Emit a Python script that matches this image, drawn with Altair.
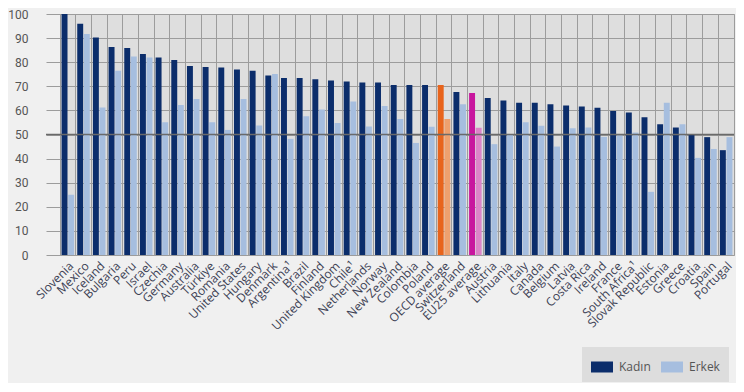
import altair as alt
import pandas as pd

countries = ["Slovenia", "Mexico", "Iceland", "Bulgaria", "Peru", "Israel", "Czechia",
             "Germany", "Australia", "Türkiye", "Romania", "United States", "Hungary",
             "Denmark", "Argentina¹", "Brazil", "Finland", "United Kingdom", "Chile¹",
             "Netherlands", "Norway", "New Zealand", "Colombia", "Poland", "OECD average",
             "Switzerland", "EU25 average", "Austria", "Lithuania", "Italy", "Canada",
             "Belgium", "Latvia", "Costa Rica", "Ireland", "France", "South Africa¹",
             "Slovak Republic", "Estonia", "Greece", "Croatia", "Spain", "Portugal"]

kadin = [100, 96, 90.3, 86.3, 85.9, 83.4, 81.9, 80.9, 78.4, 78.0, 77.8, 77.0, 76.5,
         74.5, 73.4, 73.4, 72.9, 72.4, 72.0, 71.6, 71.6, 70.5, 70.5, 70.5, 70.5,
         67.6, 67.2, 65.1, 64.1, 63.2, 63.2, 62.6, 62.0, 61.6, 61.1, 59.7, 59.1,
         57.2, 54.3, 52.9, 50.0, 48.9, 43.5]

erkek = [25, 91.7, 61.2, 76.5, 82.4, 81.9, 55.1, 62.2, 64.7, 55.1, 51.9, 64.7, 53.7,
         75.1, 48.2, 57.6, 60.4, 54.8, 63.7, 53.3, 61.8, 56.4, 46.5, 53.2, 56.4,
         62.6, 52.8, 46.0, 49.9, 55.1, 53.6, 45.0, 52.6, 52.9, 49.0, 49.6, 50.8,
         26.2, 63.2, 54.3, 40.3, 44.0, 48.9]

series = ["Kadın", "Erkek"]
color_keys = ["Kadın", "Erkek", "OECD Kadın", "OECD Erkek", "EU Kadın", "EU Erkek"]
color_vals = ["#0b2d6b", "#a6bedf", "#e8641c", "#eea06e", "#c8169e", "#dc84c8"]
y_ticks = [0, 10, 20, 30, 40, 50, 60, 70, 80, 90, 100]

rows = []
for c, k, e in zip(countries, kadin, erkek):
    for s, v in zip(series, [k, e]):
        if c == "OECD average":
            key = "OECD " + s
        elif c == "EU25 average":
            key = "EU " + s
        else:
            key = s
        rows.append({"country": c, "series": s, "value": v, "key": key})
df = pd.DataFrame(rows)

W, H = 674, 241

y_axis = alt.Axis(title=None, values=y_ticks, domain=False,
                  grid=True, gridColor="#9c9c9c", gridWidth=1,
                  tickSize=14, tickColor="#9c9c9c", labelPadding=18,
                  labelFont="Roboto", labelFontSize=12,
                  labelColor="#555555", labelOverlap=False)
y_scale = alt.Scale(domain=[0, 100], nice=False)

bars = alt.Chart(df).mark_bar().encode(
    x=alt.X("country:N", sort=countries,
            scale=alt.Scale(paddingInner=0.2, paddingOuter=0.1),
            axis=alt.Axis(title=None, labelAngle=315, ticks=False, domain=False,
                          grid=True, gridColor="#9c9c9c", gridWidth=1,
                          bandPosition=-0.125, labelPadding=5,
                          labelFont="Open Sans", labelFontSize=12,
                          labelColor="#3c4154", labelOverlap=False)),
    xOffset=alt.XOffset("series:N", sort=series,
                        scale=alt.Scale(paddingInner=0.1)),
    y=alt.Y("value:Q", scale=y_scale, axis=y_axis),
    color=alt.Color("key:N",
                    scale=alt.Scale(domain=color_keys, range=color_vals),
                    legend=alt.Legend(title=None, values=series, orient="none",
                                      legendX=522, legendY=333,
                                      direction="horizontal",
                                      fillColor="#dddddd", padding=9,
                                      symbolType="M-1,-0.5H1V0.5H-1Z",
                                      symbolSize=484, symbolStrokeWidth=0,
                                      symbolOpacity=1,
                                      labelFont="Open Sans", labelFontSize=12,
                                      labelColor="#555555", labelOffset=6,
                                      columnPadding=10)),
)

fifty = alt.Chart(pd.DataFrame({"v": [50]})).mark_rule(
    color="#6a6a6a", strokeWidth=1.5
).encode(y=alt.Y("v:Q", scale=y_scale, axis=y_axis),
         x=alt.value(-14), x2=alt.value(W))

chart = alt.layer(bars, fifty).properties(
    width=W, height=H,
    autosize=alt.AutoSizeParams(type="none"),
    padding={"left": 52, "top": 6, "right": 2, "bottom": 128},
    background="#f0f0f0",
).configure_view(fill="#dedede", stroke="#9c9c9c", strokeWidth=1)

chart.save("out.html", embed_options={"renderer": "svg", "actions": False})
